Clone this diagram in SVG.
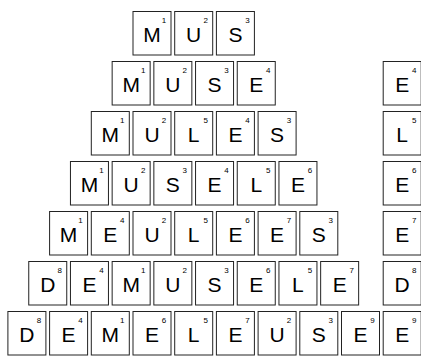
<svg xmlns="http://www.w3.org/2000/svg" width="421" height="356" viewBox="0 0 421 356">
<style>
.t use{fill:#fff;stroke:#222;stroke-width:1}
.l{font-family:"Liberation Sans",Arial,sans-serif;font-size:21px;fill:#000;text-anchor:middle}
.n{font-family:"Liberation Sans",Arial,sans-serif;font-size:8px;fill:#000;text-anchor:middle}
</style>
<defs><rect id="b" width="38" height="43.5"/></defs>
<rect width="421" height="356" fill="#fff"/>
<!-- Row 1 -->
<g id="r1a" class="t" transform="translate(133,11.5)"><use href="#b"/><text class="l" x="19" y="30">M</text><text class="n" x="31" y="11">1</text></g>
<g id="r1b" class="t" transform="translate(174.7,11.5)"><use href="#b"/><text class="l" x="19" y="30">U</text><text class="n" x="31" y="11">2</text></g>
<g id="r1c" class="t" transform="translate(216.4,11.5)"><use href="#b"/><text class="l" x="19" y="30">S</text><text class="n" x="31" y="11">3</text></g>
<!-- Row 2 -->
<g id="r2a" class="t" transform="translate(112.15,61.5)"><use href="#b"/><text class="l" x="19" y="30">M</text><text class="n" x="31" y="11">1</text></g>
<g id="r2b" class="t" transform="translate(153.85,61.5)"><use href="#b"/><text class="l" x="19" y="30">U</text><text class="n" x="31" y="11">2</text></g>
<g id="r2c" class="t" transform="translate(195.55,61.5)"><use href="#b"/><text class="l" x="19" y="30">S</text><text class="n" x="31" y="11">3</text></g>
<g id="r2d" class="t" transform="translate(237.25,61.5)"><use href="#b"/><text class="l" x="19" y="30">E</text><text class="n" x="31" y="11">4</text></g>
<g id="r2x" class="t" transform="translate(383.2,61.5)"><use href="#b"/><text class="l" x="19" y="30">E</text><text class="n" x="31" y="11">4</text></g>
<!-- Row 3 -->
<g id="r3a" class="t" transform="translate(91.3,111.5)"><use href="#b"/><text class="l" x="19" y="30">M</text><text class="n" x="31" y="11">1</text></g>
<g id="r3b" class="t" transform="translate(133,111.5)"><use href="#b"/><text class="l" x="19" y="30">U</text><text class="n" x="31" y="11">2</text></g>
<g id="r3c" class="t" transform="translate(174.7,111.5)"><use href="#b"/><text class="l" x="19" y="30">L</text><text class="n" x="31" y="11">5</text></g>
<g id="r3d" class="t" transform="translate(216.4,111.5)"><use href="#b"/><text class="l" x="19" y="30">E</text><text class="n" x="31" y="11">4</text></g>
<g id="r3e" class="t" transform="translate(258.1,111.5)"><use href="#b"/><text class="l" x="19" y="30">S</text><text class="n" x="31" y="11">3</text></g>
<g id="r3x" class="t" transform="translate(383.2,111.5)"><use href="#b"/><text class="l" x="19" y="30">L</text><text class="n" x="31" y="11">5</text></g>
<!-- Row 4 -->
<g id="r4a" class="t" transform="translate(70.45,161.5)"><use href="#b"/><text class="l" x="19" y="30">M</text><text class="n" x="31" y="11">1</text></g>
<g id="r4b" class="t" transform="translate(112.15,161.5)"><use href="#b"/><text class="l" x="19" y="30">U</text><text class="n" x="31" y="11">2</text></g>
<g id="r4c" class="t" transform="translate(153.85,161.5)"><use href="#b"/><text class="l" x="19" y="30">S</text><text class="n" x="31" y="11">3</text></g>
<g id="r4d" class="t" transform="translate(195.55,161.5)"><use href="#b"/><text class="l" x="19" y="30">E</text><text class="n" x="31" y="11">4</text></g>
<g id="r4e" class="t" transform="translate(237.25,161.5)"><use href="#b"/><text class="l" x="19" y="30">L</text><text class="n" x="31" y="11">5</text></g>
<g id="r4f" class="t" transform="translate(278.95,161.5)"><use href="#b"/><text class="l" x="19" y="30">E</text><text class="n" x="31" y="11">6</text></g>
<g id="r4x" class="t" transform="translate(383.2,161.5)"><use href="#b"/><text class="l" x="19" y="30">E</text><text class="n" x="31" y="11">6</text></g>
<!-- Row 5 -->
<g id="r5a" class="t" transform="translate(49.6,211.5)"><use href="#b"/><text class="l" x="19" y="30">M</text><text class="n" x="31" y="11">1</text></g>
<g id="r5b" class="t" transform="translate(91.3,211.5)"><use href="#b"/><text class="l" x="19" y="30">E</text><text class="n" x="31" y="11">4</text></g>
<g id="r5c" class="t" transform="translate(133,211.5)"><use href="#b"/><text class="l" x="19" y="30">U</text><text class="n" x="31" y="11">2</text></g>
<g id="r5d" class="t" transform="translate(174.7,211.5)"><use href="#b"/><text class="l" x="19" y="30">L</text><text class="n" x="31" y="11">5</text></g>
<g id="r5e" class="t" transform="translate(216.4,211.5)"><use href="#b"/><text class="l" x="19" y="30">E</text><text class="n" x="31" y="11">6</text></g>
<g id="r5f" class="t" transform="translate(258.1,211.5)"><use href="#b"/><text class="l" x="19" y="30">E</text><text class="n" x="31" y="11">7</text></g>
<g id="r5g" class="t" transform="translate(299.8,211.5)"><use href="#b"/><text class="l" x="19" y="30">S</text><text class="n" x="31" y="11">3</text></g>
<g id="r5x" class="t" transform="translate(383.2,211.5)"><use href="#b"/><text class="l" x="19" y="30">E</text><text class="n" x="31" y="11">7</text></g>
<!-- Row 6 -->
<g id="r6a" class="t" transform="translate(28.75,261.5)"><use href="#b"/><text class="l" x="19" y="30">D</text><text class="n" x="31" y="11">8</text></g>
<g id="r6b" class="t" transform="translate(70.45,261.5)"><use href="#b"/><text class="l" x="19" y="30">E</text><text class="n" x="31" y="11">4</text></g>
<g id="r6c" class="t" transform="translate(112.15,261.5)"><use href="#b"/><text class="l" x="19" y="30">M</text><text class="n" x="31" y="11">1</text></g>
<g id="r6d" class="t" transform="translate(153.85,261.5)"><use href="#b"/><text class="l" x="19" y="30">U</text><text class="n" x="31" y="11">2</text></g>
<g id="r6e" class="t" transform="translate(195.55,261.5)"><use href="#b"/><text class="l" x="19" y="30">S</text><text class="n" x="31" y="11">3</text></g>
<g id="r6f" class="t" transform="translate(237.25,261.5)"><use href="#b"/><text class="l" x="19" y="30">E</text><text class="n" x="31" y="11">6</text></g>
<g id="r6g" class="t" transform="translate(278.95,261.5)"><use href="#b"/><text class="l" x="19" y="30">L</text><text class="n" x="31" y="11">5</text></g>
<g id="r6h" class="t" transform="translate(320.65,261.5)"><use href="#b"/><text class="l" x="19" y="30">E</text><text class="n" x="31" y="11">7</text></g>
<g id="r6x" class="t" transform="translate(383.2,261.5)"><use href="#b"/><text class="l" x="19" y="30">D</text><text class="n" x="31" y="11">8</text></g>
<!-- Row 7 -->
<g id="r7a" class="t" transform="translate(7.9,311.5)"><use href="#b"/><text class="l" x="19" y="30">D</text><text class="n" x="31" y="11">8</text></g>
<g id="r7b" class="t" transform="translate(49.6,311.5)"><use href="#b"/><text class="l" x="19" y="30">E</text><text class="n" x="31" y="11">4</text></g>
<g id="r7c" class="t" transform="translate(91.3,311.5)"><use href="#b"/><text class="l" x="19" y="30">M</text><text class="n" x="31" y="11">1</text></g>
<g id="r7d" class="t" transform="translate(133,311.5)"><use href="#b"/><text class="l" x="19" y="30">E</text><text class="n" x="31" y="11">6</text></g>
<g id="r7e" class="t" transform="translate(174.7,311.5)"><use href="#b"/><text class="l" x="19" y="30">L</text><text class="n" x="31" y="11">5</text></g>
<g id="r7f" class="t" transform="translate(216.4,311.5)"><use href="#b"/><text class="l" x="19" y="30">E</text><text class="n" x="31" y="11">7</text></g>
<g id="r7g" class="t" transform="translate(258.1,311.5)"><use href="#b"/><text class="l" x="19" y="30">U</text><text class="n" x="31" y="11">2</text></g>
<g id="r7h" class="t" transform="translate(299.8,311.5)"><use href="#b"/><text class="l" x="19" y="30">S</text><text class="n" x="31" y="11">3</text></g>
<g id="r7i" class="t" transform="translate(341.5,311.5)"><use href="#b"/><text class="l" x="19" y="30">E</text><text class="n" x="31" y="11">9</text></g>
<g id="r7x" class="t" transform="translate(383.2,311.5)"><use href="#b"/><text class="l" x="19" y="30">E</text><text class="n" x="31" y="11">9</text></g>
</svg>
